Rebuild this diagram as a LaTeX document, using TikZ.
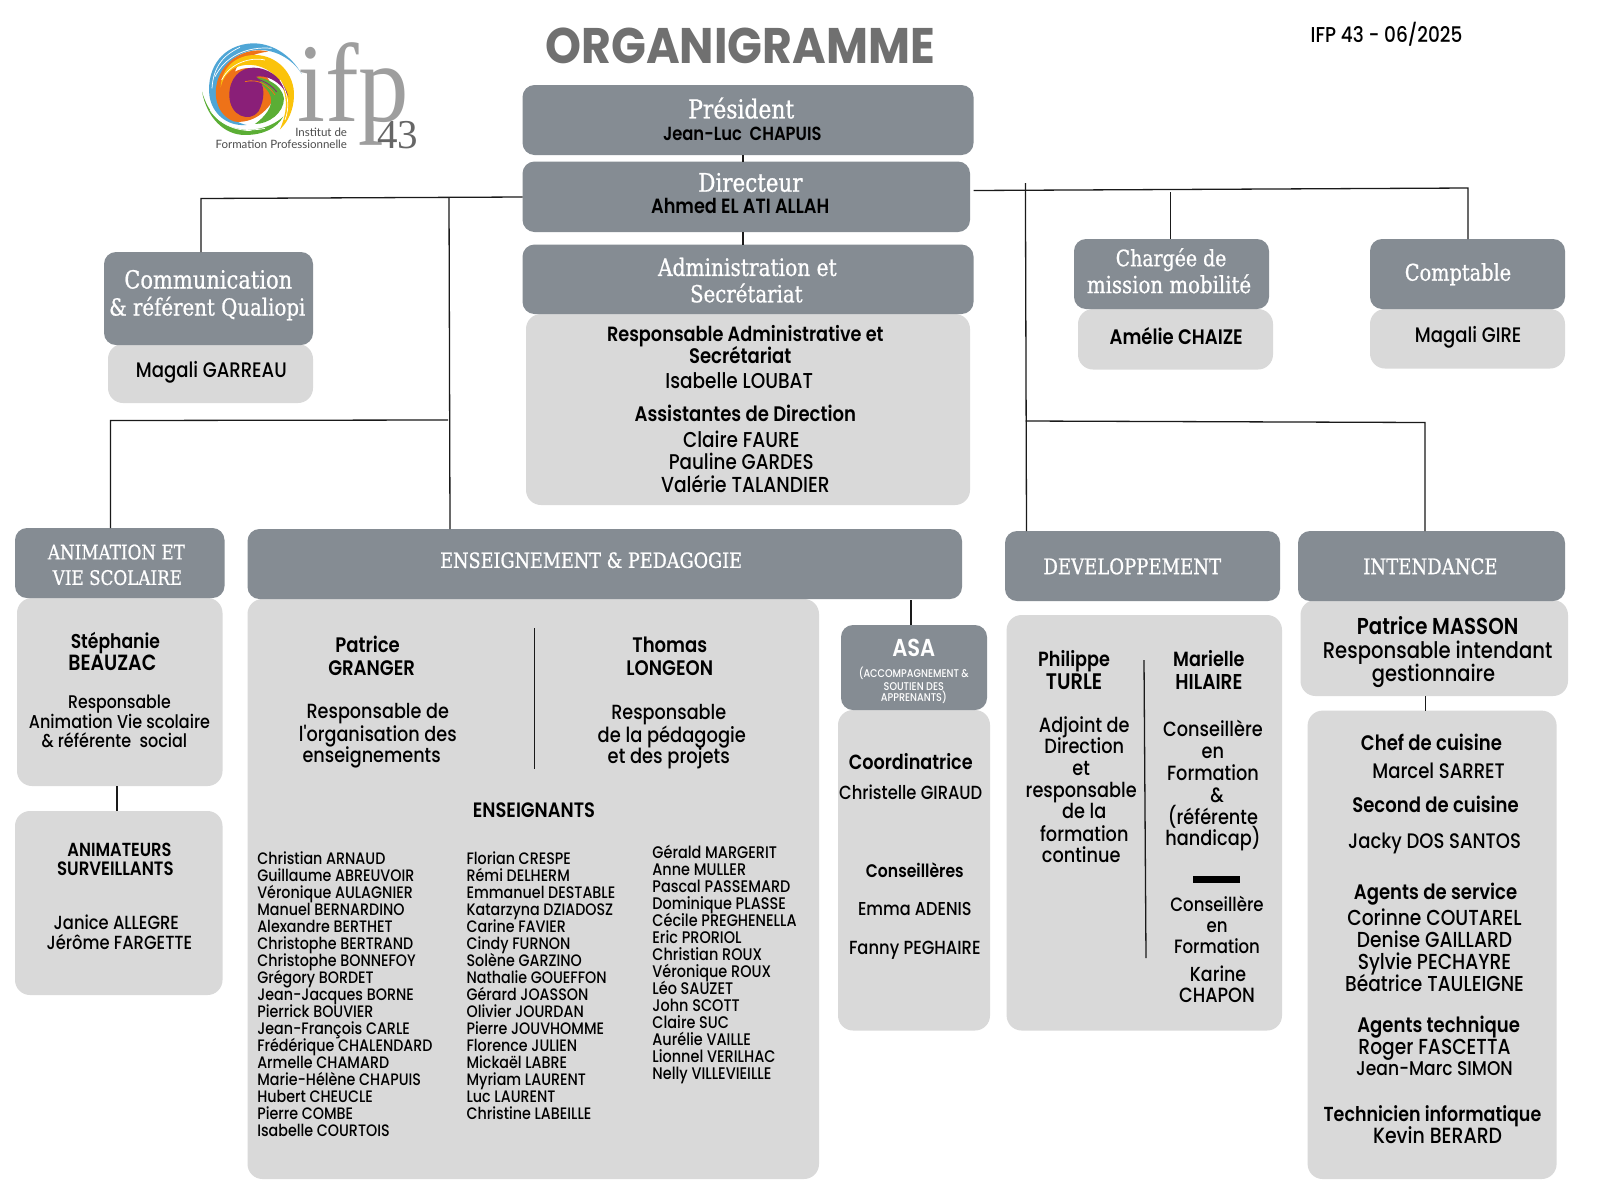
\documentclass[tikz,border=0pt]{standalone}
\usepackage{fontspec}
\setmainfont[FakeStretch=0.86,BoldFont={Poppins SemiBold}]{Poppins Medium}
\newfontfamily\rawfont[FakeStretch=0.86]{Poppins Medium}
\newfontfamily\slabfont[FakeStretch=0.84,FakeBold=0.8]{DejaVu Serif}
\newfontfamily\titlefont[FakeStretch=0.915]{Poppins Bold}
\newfontfamily\logoserif{Liberation Serif}
\newfontfamily\logosans{Lato}
\definecolor{hdr}{HTML}{858C93}
\definecolor{bodyg}{HTML}{D9D9D9}
\definecolor{titleg}{HTML}{707070}
\definecolor{lineblack}{HTML}{1A1A1A}
\newcounter{tn}
\tikzset{
  every node/.style={inner sep=0pt,outer sep=0pt},
  hbox/.style={fill=hdr,rounded corners=12pt},
  bbox/.style={fill=bodyg,rounded corners=15pt},
  conn/.style={draw=lineblack,line width=1.3pt},
  tr/.style={anchor=base,align=center,text=black,font=\fontsize{\tsize}{\tsize}\selectfont},
  tb/.style={anchor=base,align=center,text=black,font=\fontsize{\tsize}{\tsize}\selectfont\bfseries},
  ts/.style={anchor=base,align=center,text=white,font=\fontsize{\tsize}{\tsize}\selectfont\slabfont},
  tw/.style={anchor=base,align=center,text=white,font=\fontsize{\tsize}{\tsize}\selectfont},
  twb/.style={anchor=base,align=center,text=white,font=\fontsize{\tsize}{\tsize}\selectfont\bfseries},
  tl/.style={anchor=base west,text=black,font=\fontsize{\tsize}{\tsize}\selectfont},
  ttl/.style={anchor=base,text=titleg,font=\fontsize{\tsize}{\tsize}\selectfont\titlefont},
  streak/.style={white,line width=.7pt},
}
% box: name, style, x0,y0,x1,y1 (pixels)
\newcommand{\Bx}[6]{%
  \pgfmathsetmacro{\bw}{#5-#3}\pgfmathsetmacro{\bh}{#6-#4}%
  \pgfmathsetmacro{\bcx}{(#3+#5)/2}\pgfmathsetmacro{\bcy}{(#4+#6)/2}%
  \node[#2,minimum width=\bw pt,minimum height=\bh pt] (#1) at (\bcx,\bcy) {};}
% text: style,size,x,y,text (x,y in the scaled reading grid)
\newcommand{\T}[5]{%
  \stepcounter{tn}\def\tsize{#2}%
  \pgfmathsetmacro{\tx}{#3*1.021}\pgfmathsetmacro{\ty}{#4*1.021+0.35*#2}%
  \node[#1] (t\thetn) at (\tx,\ty) {#5};}
\begin{document}
\begin{tikzpicture}[x=1pt,y=-1pt]
\useasboundingbox (0,0) rectangle (1600,1200);
\fill[white] (0,0) rectangle (1600,1200);

% ---- logo (swirl)
\begin{scope}[shift={(180,0)},x=0.3333pt,y=-0.3333pt]
\definecolor{lgblue}{HTML}{4FA6D6}
\definecolor{lggreen}{HTML}{5BAE35}
\definecolor{lgorange}{HTML}{EE7218}
\definecolor{lgyellow}{HTML}{FBC30A}
\definecolor{lgpurple}{HTML}{8A1F78}
\fill[lggreen] (66,275) .. controls (80,350) and (130,405) .. (195,405) .. controls (250,405) and (290,385) .. (310,350) .. controls (270,385) and (220,395) .. (170,385) .. controls (120,375) and (85,340) .. (66,275) -- cycle;
\fill[lgblue] (365,222) .. controls (330,160) and (270,128) .. (215,130) .. controls (130,135) and (80,200) .. (88,285) .. controls (95,340) and (140,380) .. (200,375) .. controls (150,365) and (120,320) .. (118,270) .. controls (118,200) and (170,150) .. (240,150) .. controls (290,150) and (340,180) .. (365,222) -- cycle;
\fill[lgorange] (115,235) .. controls (140,170) and (210,140) .. (265,155) .. controls (210,160) and (170,190) .. (165,215) .. controls (220,185) and (275,220) .. (285,290) .. controls (260,340) and (215,370) .. (165,365) .. controls (115,350) and (95,290) .. (115,235) -- cycle;
\fill[lgyellow] (122,262) .. controls (125,200) and (170,165) .. (225,165) .. controls (290,165) and (345,220) .. (342,290) .. controls (340,330) and (325,365) .. (300,388) .. controls (320,340) and (325,300) .. (305,255) .. controls (285,215) and (240,190) .. (195,195) .. controls (155,200) and (130,225) .. (122,262) -- cycle;
\fill[lggreen] (190,232) .. controls (250,225) and (305,250) .. (312,295) .. controls (312,340) and (265,372) .. (225,372) .. controls (255,350) and (280,320) .. (272,290) .. controls (260,255) and (225,240) .. (190,232) -- cycle;
\fill[lgpurple] (148,285) .. controls (148,235) and (180,203) .. (220,203) .. controls (270,203) and (312,240) .. (325,290) .. controls (300,240) and (258,225) .. (228,230) .. controls (258,250) and (255,300) .. (235,335) .. controls (210,368) and (148,350) .. (148,285) -- cycle;
\draw[streak] (105,230) .. controls (135,170) and (200,138) .. (275,145);
\draw[streak] (96,265) .. controls (100,200) and (130,165) .. (180,142);
\draw[streak] (125,240) .. controls (150,190) and (210,170) .. (255,180);
\draw[streak] (105,335) .. controls (140,385) and (200,397) .. (255,385);
\draw[streak] (90,330) .. controls (120,375) and (170,392) .. (215,392);
\draw[streak] (300,240) .. controls (325,280) and (330,320) .. (315,360);
\draw[lgorange,line width=.8pt] (195,245) .. controls (235,235) and (265,255) .. (285,285);
\draw[lgpurple,line width=.8pt] (195,232) .. controls (230,232) and (265,245) .. (290,275);
\end{scope}
\node[font=\fontsize{112}{112}\selectfont\logoserif,text=black!38,anchor=base west,xscale=0.9] (logoifp) at (297,121) {ifp};
\node[font=\fontsize{41}{41}\selectfont\logoserif,text=black!60,anchor=base west] (logofortythree) at (377,148) {43};
\node[font=\fontsize{11.5}{11.5}\selectfont\logosans,text=black!70,anchor=base east] (logoa) at (347,136) {Institut de};
\node[font=\fontsize{11.5}{11.5}\selectfont\logosans,text=black!70,anchor=base east] (logob) at (347,148) {Formation Professionnelle};

% ---- boxes
\Bx{president}{hbox}{522.5}{85}{973.5}{155}
\Bx{director}{hbox}{522.5}{161.5}{970}{232}
\Bx{adminbody}{bbox}{526}{314}{970}{505}
\Bx{admin}{hbox}{522.5}{244.5}{973.5}{314}
\Bx{commbody}{bbox}{108}{344}{313}{403}
\Bx{comm}{hbox}{104}{252}{313}{345}
\Bx{mobbody}{bbox}{1078}{309}{1273}{369.5}
\Bx{mob}{hbox}{1074}{239}{1269}{309}
\Bx{comptbody}{bbox}{1370}{309}{1565}{368.5}
\Bx{compt}{hbox}{1370}{239}{1565}{309}
\Bx{anibody}{bbox}{17}{598}{222.5}{786}
\Bx{ani}{hbox}{15}{528}{224.5}{598}
\Bx{surv}{bbox}{15}{811}{222.5}{995}
\Bx{ensbody}{bbox}{247.5}{599}{819}{1179}
\Bx{ens}{hbox}{247.5}{529}{962}{599}
\Bx{asabody}{bbox}{838}{710}{990}{1030.5}
\Bx{asa}{hbox}{841}{625}{987}{710}
\Bx{devbody}{bbox}{1006.6}{615}{1282}{1030.5}
\Bx{dev}{hbox}{1005}{531}{1280}{601}
\Bx{intbody}{bbox}{1300.5}{600}{1568}{696}
\Bx{int}{hbox}{1298}{531}{1565}{601}
\Bx{intstaff}{bbox}{1307.6}{710.6}{1556.6}{1179}

% ---- connector anchors
\coordinate (tl) at (201,198.5);
\coordinate (tm) at (449,197.5);
\coordinate (dl) at (522.5,197);
\coordinate (vc) at (743,200);
\coordinate (ar) at (973.5,190.5);
\coordinate (trc) at (1468,188);
\coordinate (vdtop) at (1025.4,183);
\coordinate (vdbot) at (1026.5,531);
\coordinate (vmob) at (1170,192);
\coordinate (hl) at (110.5,420.5);
\coordinate (hlr) at (448,420);
\coordinate (ensv) at (450,529);
\coordinate (hr) at (1025.6,421);
\coordinate (hrr) at (1425,422.5);
\coordinate (eny) at (911,600);
\coordinate (ensa) at (534.7,628);
\coordinate (ensb) at (534.7,768.6);
\coordinate (deva) at (1144,660);
\coordinate (devb) at (1146,958);
\coordinate (vs) at (117,786);
\coordinate (vi) at (1425.5,696);

\draw[conn] (president.south -| vc) -- (director.north -| vc);
\draw[conn] (director.south -| vc) -- (admin.north -| vc);
\draw[conn] (comm.north -| tl) -- (tl) -- (dl);
\draw[conn] (tm) -- (ens.north -| ensv);
\draw[conn] (ani.north -| hl) -- (hl) -- (hlr);
\draw[conn] (ar) -- (trc) -- (compt.north -| trc);
\draw[conn] (vdtop) -- (dev.north -| vdbot);
\draw[conn,line width=1pt] (vmob) -- (mob.north -| vmob);
\draw[conn] (hr) -- (hrr) -- (int.north -| hrr);
\draw[conn] (asa.north -| eny) -- (eny);
\draw[conn] (anibody.south -| vs) -- (surv.north -| vs);
\draw[conn] (intbody.south -| vi) -- (intstaff.north -| vi);
\draw[conn] (ensa) -- (ensb);
\draw[conn] (deva) -- (devb);
\fill[black] (1193,876) rectangle (1240,883);

% ---- title
\T{ttl}{50}{725}{45.5}{ORGANIGRAMME}
\T{tr}{21.5}{1358}{34}{IFP 43 - 06/2025}

% ---- headers
\T{ts}{26}{726}{107}{Président}
\T{tb}{19}{727}{131}{Jean-Luc\ \ CHAPUIS}
\T{ts}{25.5}{735}{179}{Directeur}
\T{tb}{20.6}{725}{202}{Ahmed EL ATI ALLAH}
\T{ts}{24}{732}{262}{Administration et}
\T{ts}{23.5}{731}{288}{Secrétariat}
\T{ts}{25}{204}{274}{Communication}
\T{ts}{23.5}{203}{301}{\& référent Qualiopi}
\T{tr}{21}{207}{363}{Magali GARREAU}
\T{ts}{22.5}{1147}{253}{Chargée de}
\T{ts}{23.5}{1145}{279}{mission mobilité}
\T{ts}{23}{1428}{267}{Comptable}
\T{tb}{21}{1152}{330}{Amélie CHAIZE}
\T{tr}{21}{1438}{328}{Magali GIRE}

% ---- admin
\T{tb}{20.6}{730}{327}{Responsable Administrative et}
\T{tb}{21}{725}{349}{Secrétariat}
\T{tr}{21.5}{724}{373}{Isabelle LOUBAT}
\T{tb}{21}{730}{406}{Assistantes de Direction}
\T{tr}{21.5}{726}{431}{Claire FAURE}
\T{tr}{21.3}{726}{453}{Pauline GARDES}
\T{tr}{21.7}{730}{475}{Valérie TALANDIER}

% ---- section headers
\T{ts}{20}{114}{541}{ANIMATION ET}
\T{ts}{20}{115}{566}{VIE SCOLAIRE}
\T{ts}{21}{579}{549}{ENSEIGNEMENT \& PEDAGOGIE}
\T{ts}{21.5}{1109}{555}{DEVELOPPEMENT}
\T{ts}{21.5}{1401}{555}{INTENDANCE}

% ---- animation
\T{tb}{20}{113}{628}{Stéphanie}
\T{tb}{22}{110}{649}{BEAUZAC}
\T{tr}{18.3}{117}{688}{Responsable}
\T{tr}{18.6}{117}{707}{Animation Vie scolaire}
\T{tr}{18.6}{112}{726}{\& référente\ \ social}
\T{tb}{18.9}{117}{832}{ANIMATEURS}
\T{tb}{19.3}{113}{851}{SURVEILLANTS}
\T{tr}{19}{114}{904}{Janice ALLEGRE}
\T{tr}{19}{117}{923}{Jérôme FARGETTE}

% ---- enseignement
\T{tb}{21}{360}{632}{Patrice}
\T{tb}{21}{364}{654}{GRANGER}
\T{tr}{20.5}{370}{697}{Responsable de}
\T{tr}{20.5}{370}{719}{{\rawfont l'organisation des}}
\T{tr}{20.5}{364}{740}{enseignements}
\T{tb}{21}{656}{632}{Thomas}
\T{tb}{21}{656}{654}{LONGEON}
\T{tr}{20.5}{655}{698}{Responsable}
\T{tr}{20.8}{658}{720}{de la pédagogie}
\T{tr}{20.8}{655}{741}{et des projets}
\T{tb}{20.8}{523}{794}{ENSEIGNANTS}

\newcommand{\namecol}[4]{\def\ny{#2}\foreach \n in {#4}{\T{tl}{#3}{#1}{\ny}{\n}\pgfmathsetmacro{\nn}{\ny+16.65}\global\let\ny\nn}}
\namecol{252}{841}{16.6}{Christian ARNAUD,Guillaume ABREUVOIR,Véronique AULAGNIER,Manuel BERNARDINO,Alexandre BERTHET,Christophe BERTRAND,Christophe BONNEFOY,Grégory BORDET,Jean-Jacques BORNE,Pierrick BOUVIER,Jean-François CARLE,Frédérique CHALENDARD,Armelle CHAMARD,Marie-Hélène CHAPUIS,Hubert CHEUCLE,Pierre COMBE,Isabelle COURTOIS}
\namecol{457}{841}{16.6}{Florian CRESPE,Rémi DELHERM,Emmanuel DESTABLE,Katarzyna DZIADOSZ,Carine FAVIER,Cindy FURNON,Solène GARZINO,Nathalie GOUEFFON,Gérard JOASSON,Olivier JOURDAN,Pierre JOUVHOMME,Florence JULIEN,Mickaël LABRE,Myriam LAURENT,Luc LAURENT,Christine LABEILLE}
\namecol{639}{835}{16.8}{Gérald MARGERIT,Anne MULLER,Pascal PASSEMARD,Dominique PLASSE,Cécile PREGHENELLA,Eric PRORIOL,Christian ROUX,Véronique ROUX,Léo SAUZET,John SCOTT,Claire SUC,Aurélie VAILLE,Lionnel VERILHAC,Nelly VILLEVIEILLE}

% ---- asa
\T{twb}{24.5}{895}{635}{ASA}
\T{tw}{11.2}{895}{660}{(ACCOMPAGNEMENT \&}
\T{tw}{11.2}{895}{672}{SOUTIEN DES}
\T{tw}{11.2}{895}{683}{APPRENANTS)}
\T{tb}{20.5}{892}{747}{Coordinatrice}
\T{tr}{19}{892}{777}{Christelle GIRAUD}
\T{tb}{18.2}{896}{853}{Conseillères}
\T{tr}{18.7}{896}{890}{Emma ADENIS}
\T{tr}{19}{896}{928}{Fanny PEGHAIRE}

% ---- developpement
\T{tb}{20.5}{1052}{646}{Philippe}
\T{tb}{22.5}{1052}{668}{TURLE}
\T{tr}{20.6}{1062}{710}{Adjoint de}
\T{tr}{20.6}{1062}{731}{Direction}
\T{tr}{20.6}{1059}{752}{et}
\T{tr}{20.6}{1059}{774}{responsable}
\T{tr}{20.6}{1062}{795}{de la}
\T{tr}{20.6}{1062}{817}{formation}
\T{tr}{20.6}{1059}{838}{continue}
\T{tb}{20.5}{1184}{646}{Marielle}
\T{tb}{21.5}{1184}{668}{HILAIRE}
\T{tr}{20.6}{1188}{714}{Conseillère}
\T{tr}{20.6}{1188}{736}{en}
\T{tr}{20.6}{1188}{757}{Formation}
\T{tr}{20.6}{1192}{779}{\&}
\T{tr}{20.6}{1188}{800}{(référente}
\T{tr}{20.6}{1188}{821}{handicap)}
\T{tr}{19.3}{1192}{886}{Conseillère}
\T{tr}{19.3}{1192}{907}{en}
\T{tr}{19.3}{1192}{927}{Formation}
\T{tr}{20.3}{1193}{954}{Karine}
\T{tr}{20.6}{1192}{975}{CHAPON}

% ---- intendance
\T{tb}{23}{1408}{614}{Patrice MASSON}
\T{tr}{22.8}{1408}{637}{Responsable intendant}
\T{tr}{22.6}{1404}{660}{gestionnaire}
\T{tb}{21}{1402}{728}{Chef de cuisine}
\T{tr}{21}{1409}{755}{Marcel SARRET}
\T{tb}{21}{1406}{789}{Second de cuisine}
\T{tr}{21}{1405}{824}{Jacky DOS SANTOS}
\T{tb}{21}{1406}{874}{Agents de service}
\T{tr}{21.7}{1405}{899}{Corinne COUTAREL}
\T{tr}{21.7}{1405}{921}{Denise GAILLARD}
\T{tr}{21.7}{1405}{942}{Sylvie PECHAYRE}
\T{tr}{21.6}{1405}{964}{Béatrice TAULEIGNE}
\T{tb}{21}{1409}{1004}{Agents technique}
\T{tr}{21.7}{1405}{1025}{Roger FASCETTA}
\T{tr}{19.9}{1405}{1047}{Jean-Marc SIMON}
\T{tb}{20.3}{1403}{1091}{Technicien informatique}
\T{tr}{22}{1408}{1112}{Kevin BERARD}
\end{tikzpicture}
\end{document}
